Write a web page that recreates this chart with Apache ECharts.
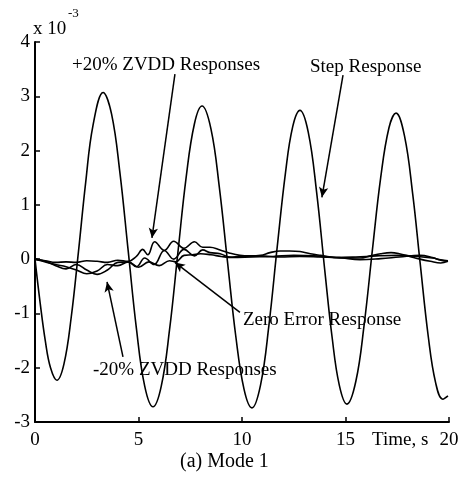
<!DOCTYPE html>
<html>
<head>
<meta charset="utf-8">
<script src="https://cdn.jsdelivr.net/npm/echarts@6/dist/echarts.min.js"></script>
<style>
  html, body { margin: 0; padding: 0; background: #fff; }
  #chart { width: 463px; height: 477px; }
</style>
</head>
<body>
<div id="chart"></div>
<script>
// values are in units of 1e-3 (see "x 10^-3" on the axis)
const stepTime = [0, 0.25, 0.5, 0.75, 1.06, 1.4, 1.75, 2.1, 2.45, 2.8, 3.29, 3.7, 4.1, 4.5, 4.9, 5.3, 5.7,
    6.1, 6.5, 6.9, 7.3, 7.7, 8.07, 8.5, 8.9, 9.3, 9.7, 10.1, 10.48, 10.9, 11.3, 11.7, 12.1, 12.45, 12.8,
    13.2, 13.6, 14.0, 14.35, 14.7, 15.07, 15.5, 15.9, 16.3, 16.7, 17.1, 17.44, 17.85, 18.25, 18.6, 19.0,
    19.35, 19.7, 19.95];
const stepValue = [0, -0.81, -1.51, -2.0, -2.23, -1.93, -1.07, 0.14, 1.42, 2.46, 3.07, 2.67, 1.6, 0.16, -1.28,
    -2.34, -2.72, -2.34, -1.3, 0.11, 1.5, 2.49, 2.82, 2.4, 1.34, -0.05, -1.42, -2.4, -2.74, -2.31, -1.22,
    0.22, 1.59, 2.44, 2.74, 2.34, 1.25, -0.21, -1.43, -2.32, -2.67, -2.25, -1.21, 0.17, 1.5, 2.42, 2.69,
    2.27, 1.19, -0.05, -1.43, -2.27, -2.58, -2.52];

const plusTime = [0, 0.5, 1.0, 1.5, 2.0, 2.5, 3.0, 3.5, 4.0, 4.5, 4.9, 5.2, 5.45, 5.78, 6.25, 6.7, 7.2, 7.7,
    8.1, 8.45, 8.94, 9.42, 9.9, 10.4, 10.9, 11.35, 11.84, 12.3, 12.8, 13.3, 13.8, 14.7, 15.7, 16.2, 16.7,
    17.2, 17.6, 18.1, 18.6, 19.1, 19.6, 19.95];
const plusValue = [0, -0.03, -0.06, -0.05, -0.06, -0.03, -0.04, -0.06, -0.02, -0.04, 0.05, 0.18, 0.08, 0.32,
    0.16, 0.33, 0.2, 0.32, 0.22, 0.22, 0.17, 0.11, 0.07, 0.06, 0.07, 0.12, 0.15, 0.15, 0.14, 0.1, 0.07, 0.02,
    0.02, 0.06, 0.1, 0.12, 0.1, 0.05, 0.0, -0.04, -0.07, -0.04];

const minusTime = [0, 0.5, 1.0, 1.5, 2.0, 2.5, 3.0, 3.5, 4.0, 4.5, 4.9, 5.3, 5.75, 6.25, 6.7, 7.2, 7.7,
    8.1, 8.45, 8.94, 9.42, 9.9, 10.9, 11.84, 12.8, 13.8, 14.7, 15.7, 16.7, 17.6, 18.6, 19.2, 19.6, 19.95];
const minusValue = [0, -0.05, -0.1, -0.14, -0.2, -0.27, -0.22, -0.1, -0.12, -0.05, -0.14, 0.02, -0.1, 0.16,
    0.0, 0.18, 0.06, 0.17, 0.12, 0.1, 0.04, 0.05, 0.06, 0.04, 0.05, 0.04, 0.03, -0.01, 0.01, 0.04,
    0.07, 0.03, -0.02, -0.04];

const zeroTime = [0, 0.5, 1.0, 1.5, 2.0, 2.5, 3.0, 3.5, 4.0, 4.5, 5.0, 5.5, 6.0, 6.5, 6.8, 7.2, 7.6, 8.0, 8.5,
    9.0, 9.5, 10.5, 11.5, 12.5, 13.5, 14.5, 15.5, 16.5, 17.5, 18.5, 19.2, 19.6, 19.95];
const zeroValue = [0, -0.04, -0.12, -0.18, -0.1, -0.2, -0.28, -0.2, -0.06, -0.05, -0.15, -0.05, -0.12, -0.03,
    -0.05, 0.07, 0.08, 0.1, 0.08, 0.05, 0.03, 0.04, 0.05, 0.07, 0.06, 0.03, 0.04, 0.06, 0.07, 0.05, 0.02,
    -0.01, -0.03];

const xTicks = [0, 5, 10, 15, 20];
const yTicks = [-3, -2, -1, 0, 1, 2, 3, 4];

// annotation arrows: [from, to] in data units
const arrows = [
    [[6.76, 3.41], [5.65, 0.39]],    // +20% ZVDD Responses
    [[14.88, 3.39], [13.86, 1.14]],  // Step Response
    [[9.9, -0.98], [6.76, -0.06]],   // Zero Error Response
    [[4.25, -1.8], [3.48, -0.42]],   // -20% ZVDD Responses
];

const FONT = '"Liberation Serif", "DejaVu Serif", serif';

function pairs(xs, ys) {
    return xs.map((x, i) => [x, ys[i]]);
}

function curve(name, xs, ys, extra) {
    return Object.assign({
        name: name,
        type: 'line',
        data: pairs(xs, ys),
        smooth: 0.4,
        showSymbol: false,
        lineStyle: {color: '#000', width: 1.6},
        silent: true,
    }, extra || {});
}

function text(str, left, top, size) {
    return {
        type: 'text',
        left: left,
        top: top,
        style: {text: str, font: size + 'px ' + FONT, fill: '#000'},
    };
}

const chart = echarts.init(document.getElementById('chart'), null, {renderer: 'canvas'});

chart.setOption({
    animation: false,
    backgroundColor: '#fff',
    grid: {left: 35, right: 14, top: 42, bottom: 55},
    xAxis: {
        type: 'value',
        min: xTicks[0],
        max: xTicks[xTicks.length - 1],
        interval: 5,
        axisLine: {onZero: false, lineStyle: {color: '#000', width: 2}},
        axisTick: {inside: true, length: 5, lineStyle: {color: '#000', width: 1.5}},
        splitLine: {show: false},
        axisLabel: {color: '#000', fontFamily: FONT, fontSize: 19, margin: 9},
    },
    yAxis: {
        type: 'value',
        min: yTicks[0],
        max: yTicks[yTicks.length - 1],
        interval: 1,
        axisLine: {show: true, onZero: false, lineStyle: {color: '#000', width: 2}},
        axisTick: {show: true, inside: true, length: 5, lineStyle: {color: '#000', width: 1.5}},
        splitLine: {show: false},
        axisLabel: {color: '#000', fontFamily: FONT, fontSize: 19, margin: 5},
    },
    series: [
        curve('Step Response', stepTime, stepValue),
        curve('+20% ZVDD', plusTime, plusValue),
        curve('-20% ZVDD', minusTime, minusValue),
        curve('Zero Error', zeroTime, zeroValue, {
            markLine: {
                silent: true,
                symbol: ['none', 'arrow'],
                symbolSize: [7, 10],
                label: {show: false},
                lineStyle: {color: '#000', width: 1.5, type: 'solid'},
                data: arrows.map(a => [{coord: a[0]}, {coord: a[1]}]),
            },
        }),
    ],
    graphic: [
        text('x 10', 33, 20, 19),
        text('-3', 68, 7, 13),
        text('+20% ZVDD Responses', 72, 56, 19),
        text('Step Response', 310, 58, 19),
        text('Zero Error Response', 243, 311, 19),
        text('-20% ZVDD Responses', 93, 361, 19),
        text('Time, s', 372, 431, 19),
        text('(a) Mode 1', 180, 452, 20),
    ],
});
</script>
</body>
</html>
